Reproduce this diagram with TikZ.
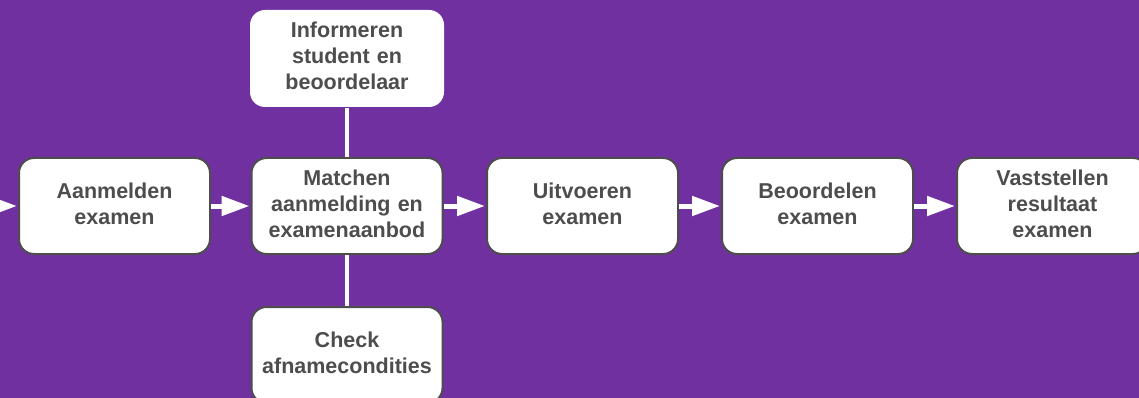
\documentclass[tikz,border=0pt]{standalone}
\usepackage{fontspec}
\setmainfont{Liberation Sans}
\usetikzlibrary{arrows.meta}
\definecolor{bgpurple}{RGB}{112,48,160}
\definecolor{boxborder}{RGB}{77,77,77}
\definecolor{txtgrey}{RGB}{77,77,77}
\tikzset{
  procbox/.style={rectangle, rounded corners=15pt, fill=white, draw=boxborder, line width=2pt,
    minimum width=191pt, minimum height=96pt, inner sep=0pt},
  plainbox/.style={procbox, draw=none},
  boxtext/.style={text width=188pt, align=center, inner sep=0pt, yshift=2.5pt,
    font=\fontsize{21.5pt}{26pt}\selectfont\bfseries, text=txtgrey},
  flow/.style={white, line width=5pt, -{Triangle[length=28pt,width=19pt]}, shorten >=1pt},
  link/.style={white, line width=4.5pt}
}
\begin{document}
\begin{tikzpicture}[x=1pt,y=-1pt]
\fill[bgpurple] (0,0) rectangle (1139,398);
\useasboundingbox (0,0) rectangle (1139,398);
\clip (0,0) rectangle (1139,398);
\node[procbox] (aan) at (114.5,206) {};
\node[procbox] (match) at (347,206) {};
\node[procbox] (uit) at (582.5,206) {};
\node[procbox] (beo) at (817.5,206) {};
\node[procbox] (vast) at (1052.5,206) {};
\node[plainbox, minimum width=194pt, minimum height=97pt] (info) at (347,58.5) {};
\node[procbox] (check) at (347,355) {};
\node[boxtext] (aant) at (aan.center) {Aanmelden\\examen};
\node[boxtext] (matcht) at (match.center) {Matchen\\aanmelding en\\examenaanbod};
\node[boxtext] (uitt) at (uit.center) {Uitvoeren\\examen};
\node[boxtext] (beot) at (beo.center) {Beoordelen\\examen};
\node[boxtext] (vastt) at (vast.center) {Vaststellen\\resultaat\\examen};
\node[boxtext] (infot) at (info.center) {Informeren\\student en\\beoordelaar};
\node[boxtext] (checkt) at (check.center) {Check\\afnamecondities};
\coordinate (start) at (-2,206);
\draw[flow] (start) -- (aan.west);
\draw[flow] (aan) -- (match);
\draw[flow] (match) -- (uit);
\draw[flow] (uit) -- (beo);
\draw[flow] (beo) -- (vast);
\draw[link] (info.south) -- (match.north);
\draw[link] (match.south) -- (check.north);
\end{tikzpicture}
\end{document}
